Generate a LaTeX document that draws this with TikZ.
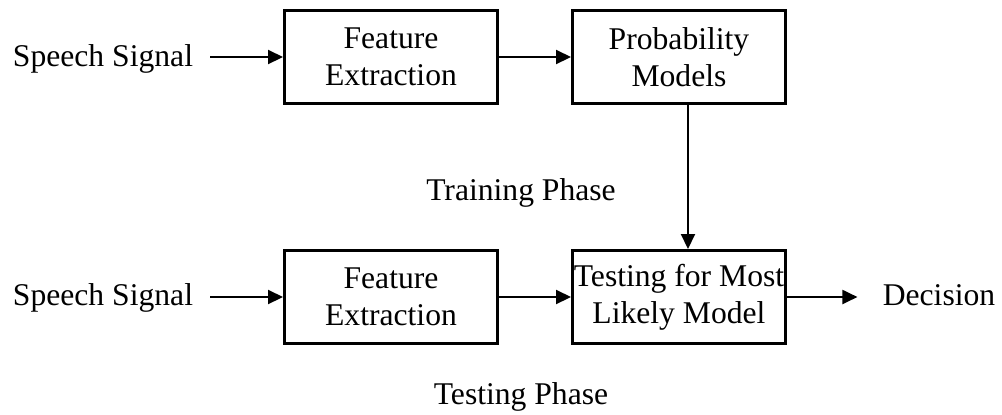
\documentclass[tikz,border=0pt]{standalone}
\usepackage{fontspec}
\setmainfont{Liberation Serif}
\usetikzlibrary{positioning,arrows.meta}
\tikzset{
  block/.style={draw, line width=1.7pt, minimum width=4.26cm, minimum height=1.86cm,
    inner xsep=0pt, align=center, font=\fontsize{18}{21}\selectfont},
  textlabel/.style={inner sep=0pt, anchor=base, font=\fontsize{18}{21}\selectfont},
  flow/.style={line width=1.1pt, -{Triangle[length=0.3cm,width=0.28cm]}}
}

\begin{document}
\begin{tikzpicture}[x=0.02cm, y=-0.02cm]
  \useasboundingbox (0,0) rectangle (1002,414);

  % Training phase
  \node[textlabel] (sig-train) at (103,66) {Speech Signal};
  \node[block] (fe-train) at (391,57) {Feature\\Extraction};
  \node[block] (pm) at (679,57) {Probability\\Models};
  \node[textlabel] (train) at (521,200) {Training Phase};

  % Testing phase
  \node[textlabel] (sig-test) at (103,305) {Speech Signal};
  \node[block] (fe-test) at (391,297) {Feature\\Extraction};
  \node[block] (test) at (679,297) {Testing for Most\\Likely Model};
  \node[textlabel] (dec) at (939,305) {Decision};
  \node[textlabel] (test-phase) at (521,404) {Testing Phase};

  % Arrows
  \draw[flow] (fe-train.west -| sig-train.east) ++(17,0) -- (fe-train.west);
  \draw[flow] (fe-train) -- (pm);
  \draw[flow] ([xshift=0.18cm]pm.south) -- ([xshift=0.18cm]test.north);
  \draw[flow] (fe-test.west -| sig-test.east) ++(17,0) -- (fe-test.west);
  \draw[flow] (fe-test) -- (test);
  \draw[flow, shorten >=0.5cm] (test.east) -- (test.east -| dec.west);

\end{tikzpicture}
\end{document}
